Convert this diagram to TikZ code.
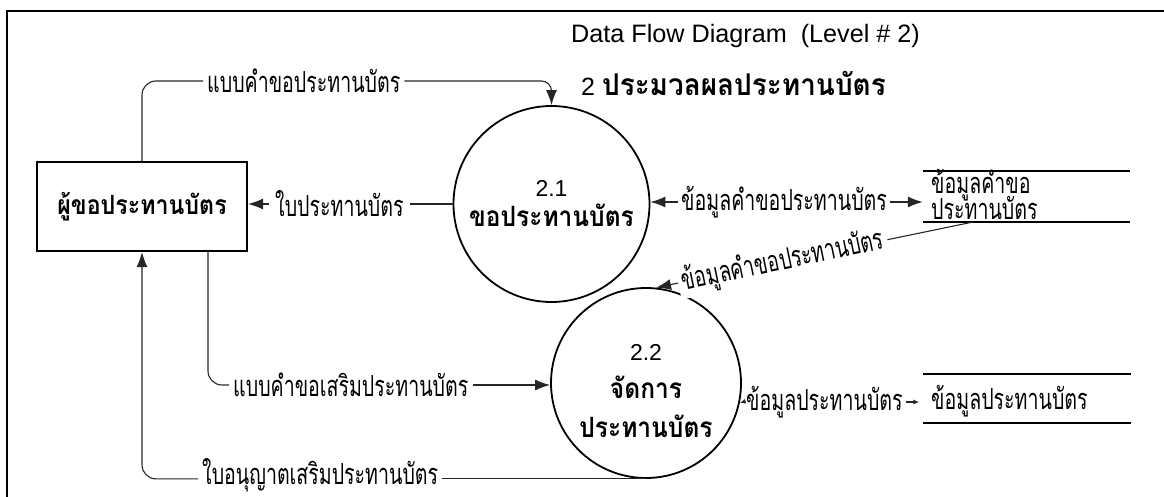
\documentclass[tikz,border=0pt]{standalone}
\usepackage{fontspec}
\setmainfont{Liberation Sans}
\newfontfamily\thain[Script=Thai,FakeStretch=0.675]{Loma}
\newfontfamily\thaib[Script=Thai,FakeStretch=0.875]{Loma}
\newfontfamily\thait[Script=Thai,FakeStretch=0.93]{Loma}
\usetikzlibrary{arrows.meta}
\tikzset{
  flow/.style={draw=black!85, line width=1.1pt},
  arr/.style={-{Latex[length=15pt,width=11pt]}},
  smallarr/.style={-{Latex[length=6pt,width=5pt]}},
  lbl/.style={font=\thain\fontsize{29}{30}\selectfont, inner xsep=4pt, inner ysep=1pt},
  proc/.style={circle, draw, line width=1.8pt, inner sep=0pt, align=center},
  storeline/.style={draw, line width=2pt},
  store/.style={minimum width=207pt, minimum height=51pt, inner sep=0pt},
}
\begin{document}
\begin{tikzpicture}[x=1pt,y=-1pt]
\useasboundingbox (0,0) rectangle (1164,497);
% frame
\draw[line width=2.5pt] (1164,11) -- (7,11) -- (7,497);
% titles
\node[anchor=west, inner sep=0pt, font=\fontsize{25.2}{27}\selectfont] (t1) at (571,36) {Data Flow Diagram~~(Level \# 2)};
\node[anchor=west, inner sep=0pt, font=\fontsize{25}{27}\selectfont] (t2) at (581,83) {2 {\thait\bfseries\fontsize{30}{32}\selectfont ประมวลผลประทานบัตร}};
% entity
\node[draw, line width=2.2pt, minimum width=210pt, minimum height=89pt, font=\thaib\bfseries\fontsize{26.5}{28}\selectfont] (E) at (142,206.5) {ผู้ขอประทานบัตร};
% processes
\node[proc, minimum size=196pt, font=\fontsize{20}{30}\selectfont] (A) at (551.5,204) {{\fontsize{23}{24}\selectfont 2.1}\\{\thaib\bfseries\fontsize{28}{30}\selectfont ขอประทานบัตร}};
\node[proc, minimum size=190pt, font=\fontsize{20}{38.5}\selectfont] (B) at (646,383) {\rule{0pt}{32pt}{\fontsize{23}{24}\selectfont 2.2}\\{\thaib\bfseries\fontsize{28}{30}\selectfont จัดการ}\\{\thaib\bfseries\fontsize{28}{30}\selectfont ประทานบัตร}};
% stores
\node[store] (S1) at (1026.5,196.5) {};
\draw[storeline] (S1.north west) -- (S1.north east) (S1.south west) -- (S1.south east);
\node[lbl, anchor=west, inner xsep=0pt] (s1t1) at (931,185) {ข้อมูลคำขอ};
\node[lbl, anchor=west, inner xsep=0pt] (s1t2) at (931,208) {ประทานบัตร};
\node[store, minimum height=49pt] (S2) at (1027,398.5) {};
\draw[storeline] (S2.north west) -- (S2.north east) (S2.south west) -- (S2.south east);
\node[lbl, anchor=west, inner xsep=0pt] (s2t) at (931,401) {ข้อมูลประทานบัตร};
% flow 1
\node[lbl, anchor=west] (l1) at (203,81) {แบบคำขอประทานบัตร};
\draw[flow, rounded corners=14pt] (E.north) |- (l1.west);
\draw[flow, arr, rounded corners=10pt] (l1.east) -| (A.north);
% flow 2
\node[lbl, anchor=west, inner xsep=6pt] (l2) at (269,204) {ใบประทานบัตร};
\draw[flow] (A.west) -- (l2.east);
\draw[flow, arr] (l2.west) -- (l2.west -| E.east);
% flow 3
\node[lbl, anchor=west, inner xsep=3pt] (l3) at (678,202) {ข้อมูลคำขอประทานบัตร};
\draw[flow, arr] (l3.west) -- (l3.west -| A.east);
\draw[flow, arr] (l3.east) -- (l3.east -| S1.west);
% flow 4
\coordinate (s1b) at (973,222);
\draw[flow, arr] (s1b) -- node[lbl, sloped, pos=0.6, fill=white] (l4) {ข้อมูลคำขอประทานบัตร} (B.84);
% flow 5
\node[lbl, anchor=west] (l5) at (229,385) {แบบคำขอเสริมประทานบัตร};
\draw[flow, rounded corners=14pt] ([xshift=66pt]E.south) |- (l5.west);
\draw[flow, arr] (l5.east) -- (l5.east -| B.west);
% flow 6
\node[lbl, anchor=west] (l6) at (198,475) {ใบอนุญาตเสริมประทานบัตร};
\draw[flow] (B.south) -- (B.south -| l6.east);
\draw[flow, arr, rounded corners=14pt] (B.south -| l6.west) -| (E.south);
% flow 7
\node[lbl, anchor=west, inner xsep=3pt] (l7) at (743,402) {ข้อมูลประทานบัตร};
\draw[flow, smallarr] (l7.west) -- (B.-12);
\draw[flow, smallarr] (l7.east) -- ([xshift=-4pt]l7.east -| S2.west);
\end{tikzpicture}
\end{document}
